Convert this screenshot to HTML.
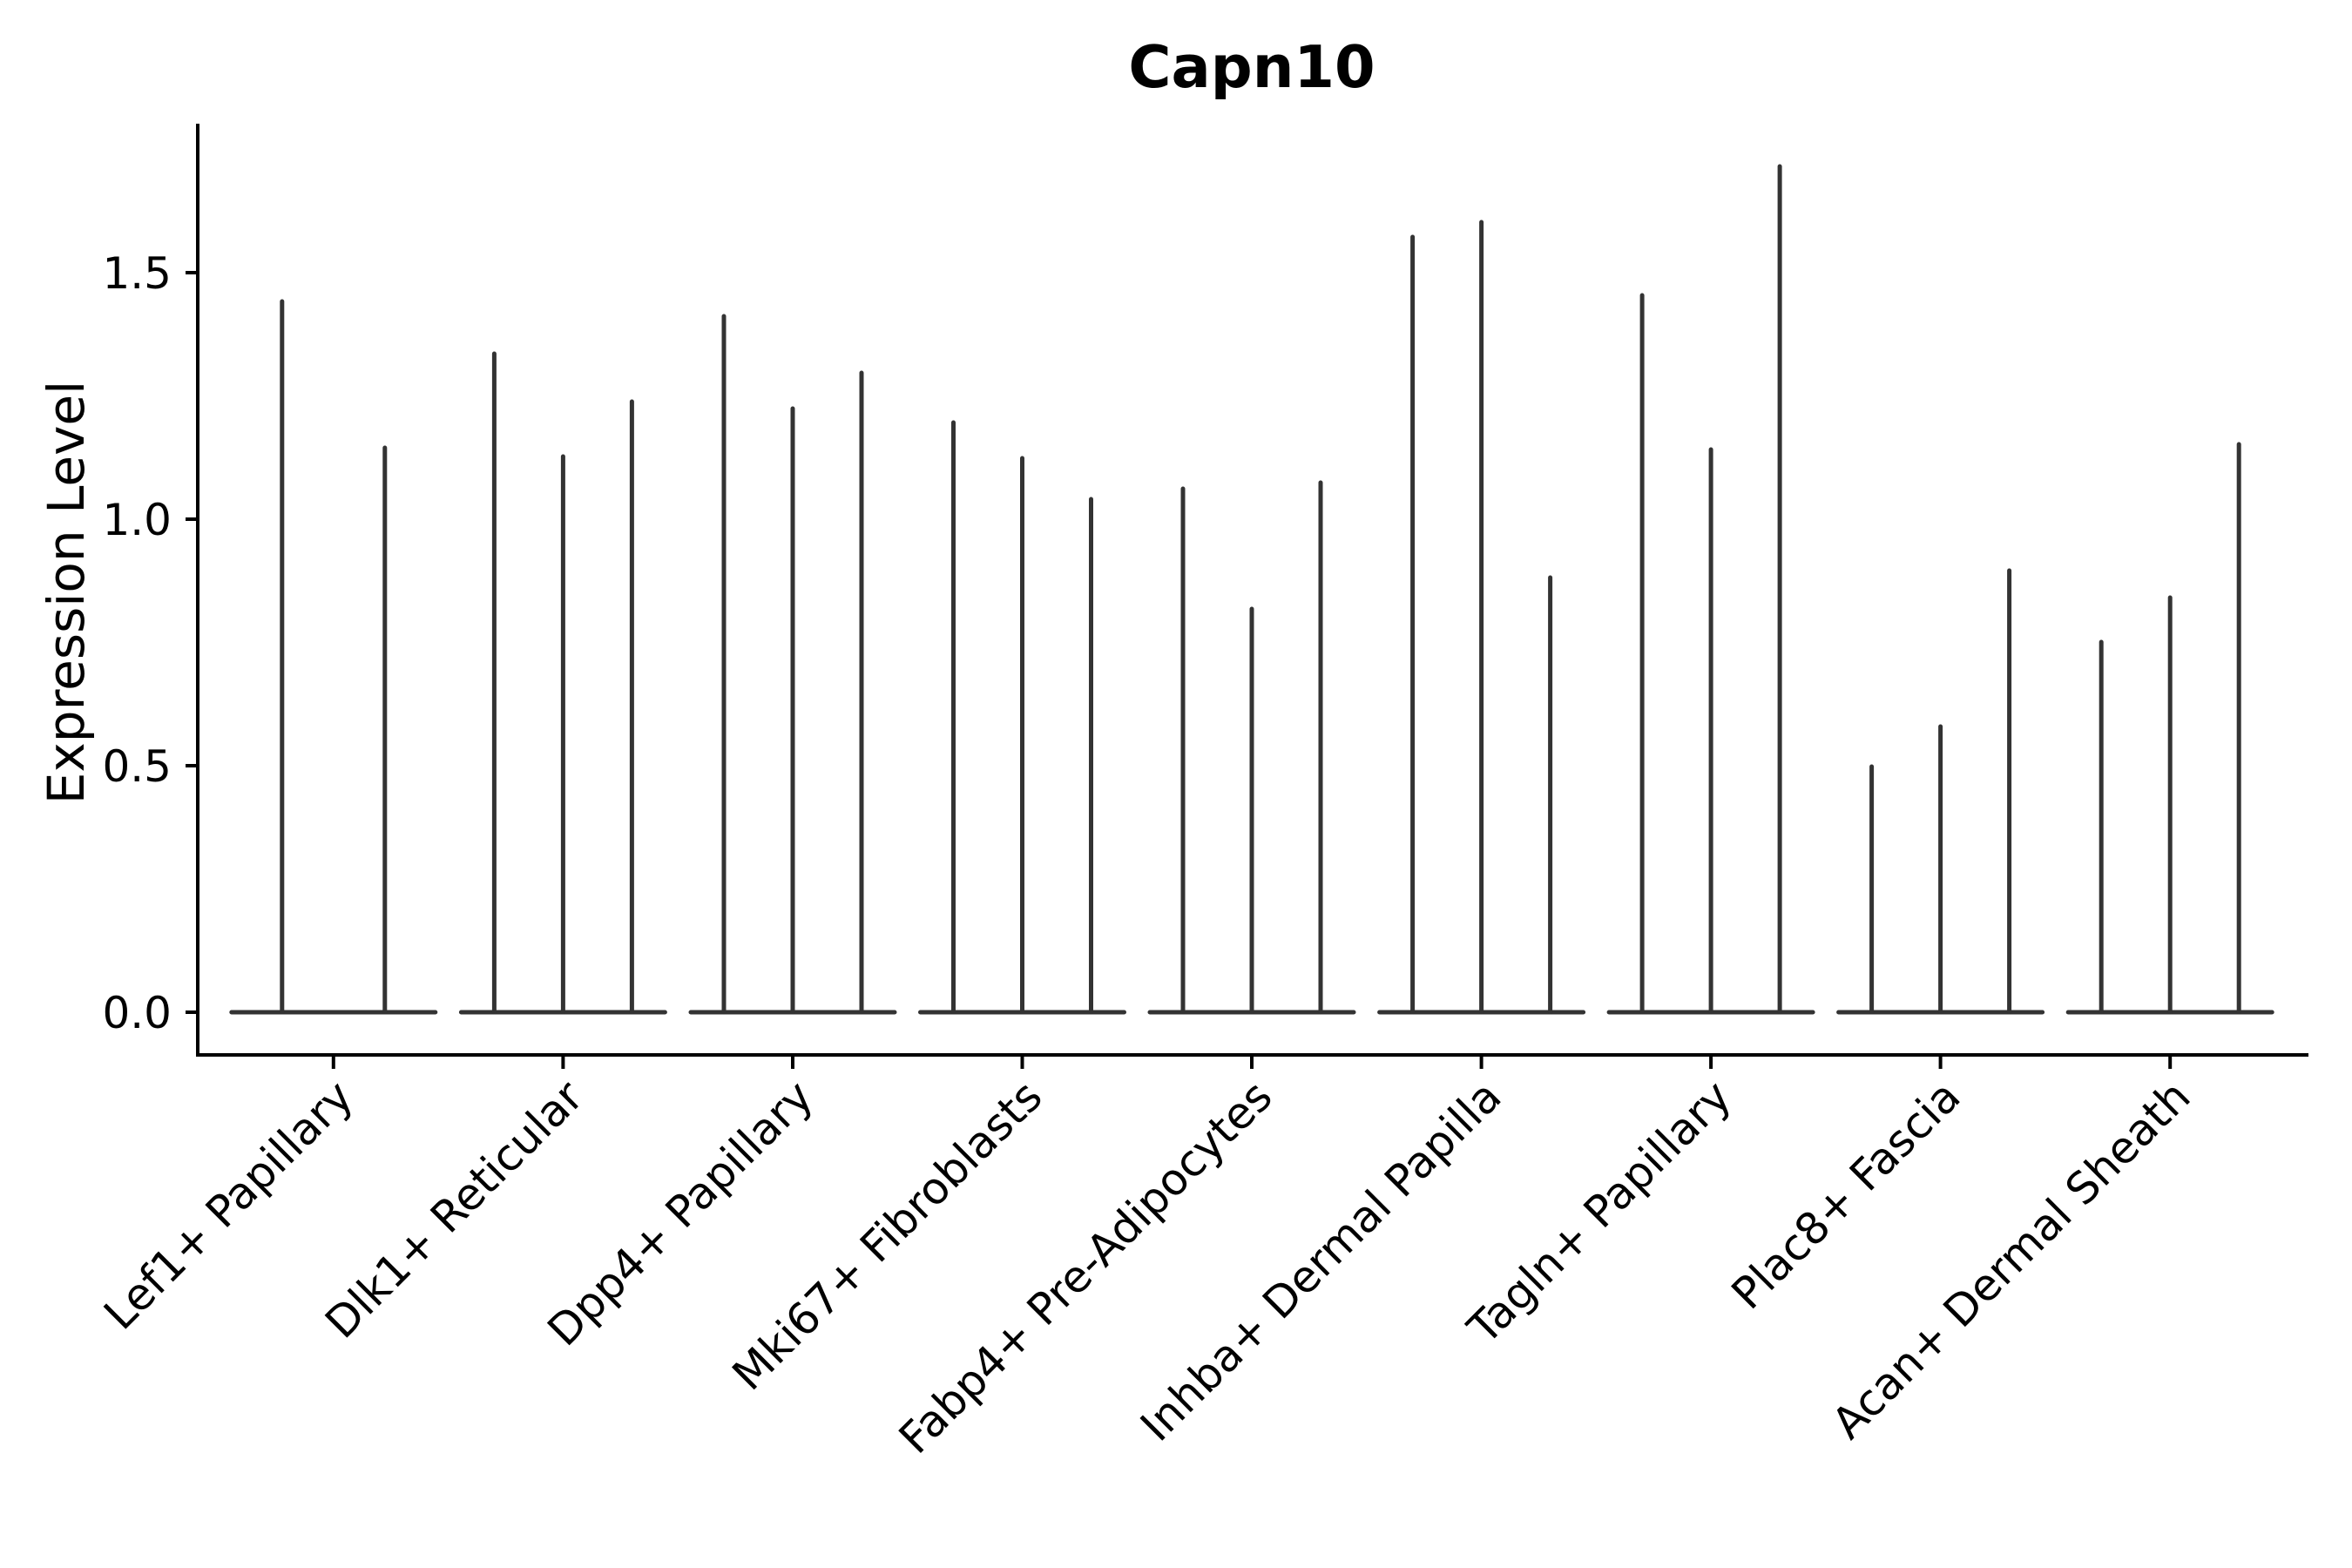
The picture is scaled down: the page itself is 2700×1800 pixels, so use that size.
<!DOCTYPE html>
<html><head><meta charset="utf-8"><style>body{margin:0;background:#fff}svg{display:block}</style></head>
<body>
<svg width="2700" height="1800" viewBox="0 0 2700 1800" xmlns="http://www.w3.org/2000/svg" font-family="DejaVu Sans, Liberation Sans, sans-serif">
<rect width="2700" height="1800" fill="#fff"/>
<text x="1437" y="100" font-size="67" font-weight="bold" text-anchor="middle">Capn10</text>
<text transform="translate(96,680) rotate(-90)" font-size="58" text-anchor="middle">Expression Level</text>
<g stroke="#000" stroke-width="4" fill="none">
<path d="M227,142 V1211 H2650"/>
<path d="M213,1162 H227 M213,879 H227 M213,596 H227 M213,313 H227"/>
<path d="M382.8,1211V1227 M646.4,1211V1227 M910,1211V1227 M1173.5,1211V1227 M1437,1211V1227 M1700.6,1211V1227 M1964.1,1211V1227 M2227.6,1211V1227 M2491.2,1211V1227"/>
</g>
<g font-size="50" text-anchor="end">
<text x="197" y="1180">0.0</text>
<text x="197" y="897">0.5</text>
<text x="197" y="614">1.0</text>
<text x="197" y="331">1.5</text>
</g>
<g stroke="#333" stroke-width="5" stroke-linecap="round" fill="none">
<path d="M265.8,1162H499.8 M529.4,1162H763.4 M793,1162H1027 M1056.5,1162H1290.5 M1320,1162H1554 M1583.6,1162H1817.6 M1847.1,1162H2081.1 M2110.6,1162H2344.6 M2374.2,1162H2608.2"/>
<path d="M323.8,1162V346 M441.8,1162V514
M567.4,1162V406 M646.4,1162V524 M725.4,1162V461
M831,1162V363 M910,1162V469 M989,1162V428
M1094.5,1162V485 M1173.5,1162V526 M1252.5,1162V573
M1358,1162V561 M1437,1162V699 M1516,1162V554
M1621.6,1162V272 M1700.6,1162V255 M1779.6,1162V663
M1885.1,1162V339 M1964.1,1162V516 M2043.1,1162V191
M2148.6,1162V880 M2227.6,1162V834 M2306.6,1162V655
M2412.2,1162V737 M2491.2,1162V686 M2570.2,1162V510"/>
</g>
<g font-size="50" text-anchor="end">
<text transform="translate(408,1262) rotate(-45)">Lef1+ Papillary</text>
<text transform="translate(672,1262) rotate(-45)">Dlk1+ Reticular</text>
<text transform="translate(936,1262) rotate(-45)">Dpp4+ Papillary</text>
<text transform="translate(1199,1262) rotate(-45)">Mki67+ Fibroblasts</text>
<text transform="translate(1463,1262) rotate(-45)">Fabp4+ Pre-Adipocytes</text>
<text transform="translate(1726,1262) rotate(-45)">Inhba+ Dermal Papilla</text>
<text transform="translate(1990,1262) rotate(-45)">Tagln+ Papillary</text>
<text transform="translate(2253,1262) rotate(-45)">Plac8+ Fascia</text>
<text transform="translate(2517,1262) rotate(-45)">Acan+ Dermal Sheath</text>
</g>
</svg>
</body></html>
